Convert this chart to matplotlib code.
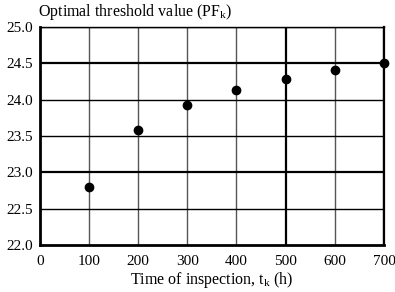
import numpy as np
import matplotlib.pyplot as plt

plt.rcParams['font.family'] = ['Liberation Serif', 'DejaVu Serif']

t_insp = [100, 200, 300, 400, 500, 600, 700]
pf_opt = [22.8, 23.58, 23.93, 24.13, 24.28, 24.40, 24.5]
x_ticks = [0, 100, 200, 300, 400, 500, 600, 700]
y_ticks = [22.0, 22.5, 23.0, 23.5, 24.0, 24.5, 25.0]

fig = plt.figure(figsize=(3.95, 2.92), dpi=100)
ax = fig.add_axes([0.101, 0.161, 0.871, 0.747])

# grid, drawn by hand so some lines can be heavier
for xv in x_ticks[1:]:
    heavy = xv in (500, 700)
    ax.axvline(xv, color='black' if heavy else '#555555', lw=1.6 if heavy else 1.0, zorder=1)
for yv in y_ticks[1:]:
    heavy = yv in (24.5, 23.0)
    ax.axhline(yv, color='black', lw=1.6 if heavy else 1.0, zorder=1)

ax.plot(t_insp, pf_opt, 'o', color='black', ms=6, zorder=3, clip_on=False)

ax.set_xlim(0, 700)
ax.set_ylim(22.0, 25.0)
ax.set_xticks(x_ticks)
ax.set_yticks(y_ticks)
ax.set_yticklabels(['%.1f' % v for v in y_ticks])
ax.tick_params(length=0, labelsize=11)
ax.tick_params(axis='x', pad=7)
ax.tick_params(axis='y', pad=5)

for s in ['left', 'bottom']:
    ax.spines[s].set_linewidth(2.0)
ax.spines['top'].set_linewidth(1.0)
ax.spines['right'].set_linewidth(1.6)

ax.set_xlabel('Time of inspection, t$_\\mathregular{k}$ (h)', fontsize=11.5, labelpad=2)
fig.text(0.096, 0.945, 'Optimal threshold value (PF$_\\mathregular{k}$)', fontsize=11.5, va='baseline', ha='left')

fig.savefig('out.png', dpi=100)
